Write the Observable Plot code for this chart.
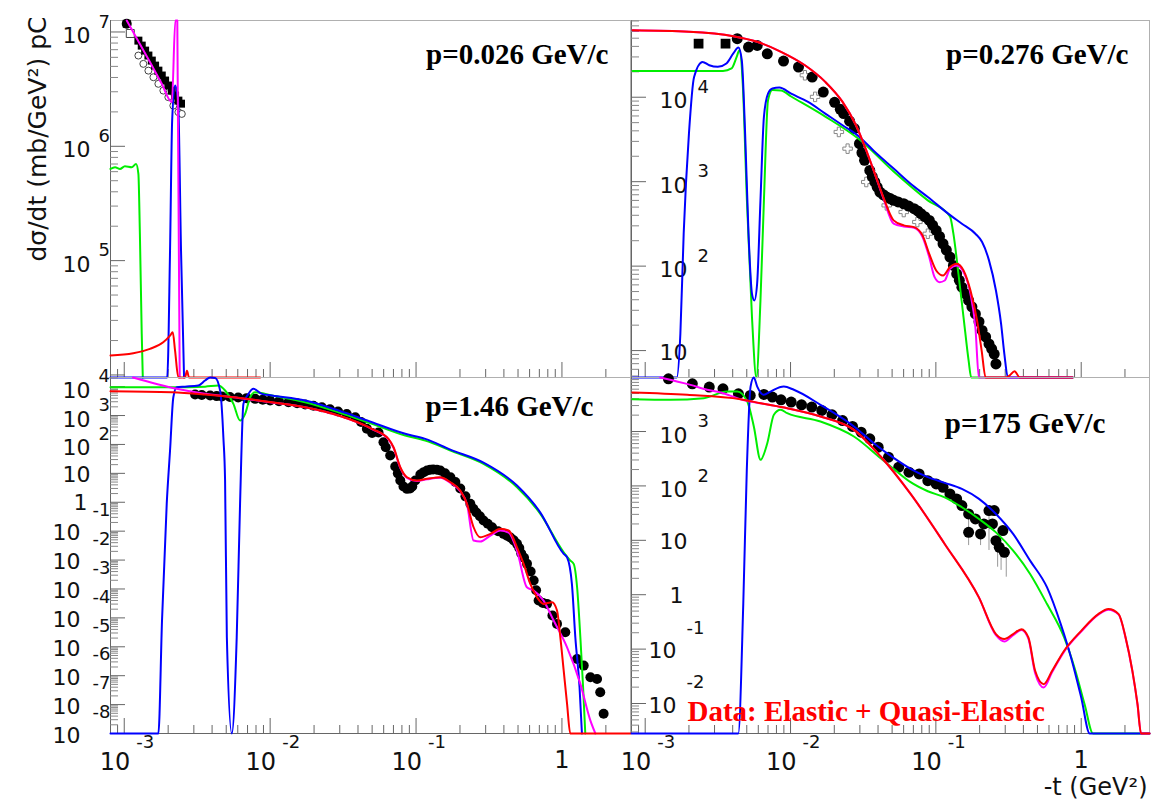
<!DOCTYPE html>
<html><head><meta charset="utf-8">
<script src="https://cdn.jsdelivr.net/npm/d3@7"></script>
<script src="https://cdn.jsdelivr.net/npm/@observablehq/plot@0.6"></script>
<style>
body{margin:0;background:#fff;}
#fig{position:relative;width:1155px;height:802px;background:#fff;overflow:hidden;}
#fig > div{position:absolute;}
#fig svg{overflow:visible;}
</style></head><body><div id="fig"></div>
<script>
// ---------- axes ----------
const xDomain = [8.05e-4, 2.95];
const yDomainTL = [9.5e3, 1.26e7];
const yDomainTR = [4.8, 8.1e4];
const yDomainBL = [1e-8, 2.07e4];
const yDomainBR = [2.81e-3, 9.84e3];

const xTickLabels = [{v:1e-3, base:"10", exp:"-3"}, {v:1e-2, base:"10", exp:"-2"}, {v:1e-1, base:"10", exp:"-1"}, {v:1, base:"1", exp:""}];
const yTickLabelsTL = [{v:1e5, base:"10", exp:"5"}, {v:1e6, base:"10", exp:"6"}, {v:1e7, base:"10", exp:"7"}];
const yTickLabelsTR = [{v:10, base:"10", exp:""}, {v:1e2, base:"10", exp:"2"}, {v:1e3, base:"10", exp:"3"}, {v:1e4, base:"10", exp:"4"}];
const yTickLabelsBL = [{v:1e4, base:"10", exp:"4"}, {v:1e3, base:"10", exp:"3"}, {v:1e2, base:"10", exp:"2"}, {v:10, base:"10", exp:""}, {v:1, base:"1", exp:""},
  {v:1e-1, base:"10", exp:"-1"}, {v:1e-2, base:"10", exp:"-2"}, {v:1e-3, base:"10", exp:"-3"}, {v:1e-4, base:"10", exp:"-4"},
  {v:1e-5, base:"10", exp:"-5"}, {v:1e-6, base:"10", exp:"-6"}, {v:1e-7, base:"10", exp:"-7"}, {v:1e-8, base:"10", exp:"-8"}];
const yTickLabelsBR = [{v:1e3, base:"10", exp:"3"}, {v:1e2, base:"10", exp:"2"}, {v:10, base:"10", exp:""}, {v:1, base:"1", exp:""}, {v:1e-1, base:"10", exp:"-1"}, {v:1e-2, base:"10", exp:"-2"}];

const panelTitles = ["p=0.026 GeV/c", "p=0.276 GeV/c", "p=1.46 GeV/c", "p=175 GeV/c"];
const yAxisTitle = "dσ/dt (mb/GeV²) pC";
const xAxisTitle = "-t (GeV²)";
const dataNote = "Data: Elastic + Quasi-Elastic";
const colors = {red:"#ff0000", magenta:"#ff00ff", green:"#00ee00", blue:"#0000ff"};

// ---------- p = 0.026 GeV/c ----------
const tlFilled = [[1.04e-3,1.18e7],[1.25e-3,8.4e6],[1.318e-3,7.6e6],[1.39e-3,6.87e6],[1.464e-3,6.22e6],[1.545e-3,5.62e6],[1.627e-3,5.08e6],[1.714e-3,4.59e6],[1.808e-3,4.16e6],[1.905e-3,3.76e6],[2.006e-3,3.4e6],[2.117e-3,3.07e6],[2.23e-3,2.78e6],[2.35e-3,2.51e6],[2.45e-3,2.36e6]];
const tlOpen = [[1.25e-3,6.22e6],[1.352e-3,5.26e6],[1.464e-3,4.59e6],[1.585e-3,4.02e6],[1.714e-3,3.52e6],[1.854e-3,3.07e6],[2.006e-3,2.69e6],[2.17e-3,2.27e6],[2.35e-3,1.99e6],[2.48e-3,1.92e6]];
const tlOpenSquare = [[1.1e-3,9.7e6]];
const tlMagenta = [[1.04e-3,1.3e7],[1.5e-3,5.46e6],[1.8e-3,3.56e6],[2.12e-3,2.43e6],[2.24e-3,3e7],[2.31e-3,3e7],[2.4e-3,5e3]];
const tlBlue = [[8.05e-4,5e3],[1.97e-3,5e3],[2.06e-3,1.22e5],[2.13e-3,1.68e6],[2.23e-3,3.4e6],[2.34e-3,2.5e6],[2.45e-3,1.22e5],[2.57e-3,5e3]];
const tlGreen = [[8.05e-4,6.34e5],[8.65e-4,6.55e5],[9.35e-4,6.34e5],[1.01e-3,6.68e5],[1.125e-3,6.55e5],[1.205e-3,7.0e5],[1.25e-3,5.74e5],[1.28e-3,1.71e5],[1.318e-3,2.28e4],[1.34e-3,5e3]];
const tlRed = [[8.05e-4,1.48e4],[1.153e-3,1.55e4],[1.5e-3,1.69e4],[1.85e-3,1.93e4],[2.06e-3,2.21e4],[2.15e-3,2.36e4],[2.23e-3,1.63e4],[2.35e-3,5e3],[2.61e-3,5e3],[2.69e-3,1.09e4],[2.78e-3,5e3],[8.54e-3,5e3]];

// ---------- p = 0.276 GeV/c ----------
const trSquares = [[2.33e-3,4.31e4],[3.57e-3,4.31e4]];
const trFilled = [[4.3e-3,4.93e4],[5.14e-3,3.93e4],[5.9e-3,4.11e4],[6.92e-3,3.27e4],[8.95e-3,2.68e4],[1.135e-2,2.28e4],[1.41e-2,1.73e4],[1.68e-2,1.15e4],[2.01e-2,8.7e3],[2.2e-2,7.2e3],[2.32e-2,6.4e3],[2.55e-2,5.2e3],[2.75e-2,4.25e3],[2.98e-2,2.82e3],[3.1e-2,2.2e3],[3.23e-2,1.79e3],[3.51e-2,1.36e3],[3.65e-2,1.15e3],[3.8e-2,991],[3.95e-2,860],[4.12e-2,754],[4.35e-2,700],[4.59e-2,658],[4.85e-2,630],[5.12e-2,601],[5.5e-2,575],[6.01e-2,548],[6.5e-2,515],[7.08e-2,479],[7.5e-2,450],[7.89e-2,418],[8.4e-2,385],[9.02e-2,348],[9.5e-2,305],[0.1005,265],[0.106,225],[0.112,184],[0.118,155],[0.125,128],[0.132,102],[0.139,81],[0.145,68],[0.151,56.4],[0.16,47],[0.168,39.2],[0.177,33],[0.187,27.2],[0.198,22],[0.208,17.3],[0.22,14.5],[0.232,12],[0.242,10.5],[0.252,9.1],[0.259,6.95]];
const trOpen = [[1.256e-2,1.82e4],[1.476e-2,1.01e4],[2.15e-2,3.88e3],[2.47e-2,2.46e3],[3.32e-2,991],[4.59e-2,524],[6.01e-2,437],[7.46e-2,333],[8.8e-2,242]];
const trRed = [[8.2e-4,6.2e4],[2.0e-3,5.96e4],[4.04e-3,5.28e4],[5.89e-3,4.53e4],[8.6e-3,3.45e4],[1.256e-2,2.39e4],[1.734e-2,1.52e4],[2.28e-2,8.8e3],[2.82e-2,4.66e3],[3.32e-2,2.35e3],[3.8e-2,1.245e3],[4.35e-2,658],[5.12e-2,348],[6.01e-2,304],[7.08e-2,290],[8.1e-2,231],[9.0e-2,140],[0.1005,88.9],[0.112,77.5],[0.125,97.3],[0.139,107],[0.155,89],[0.173,51.4],[0.192,22.7],[0.2065,10],[0.22,3],[0.305,3],[0.321,5.06],[0.348,5.69],[0.378,3],[0.873,3]];
const trMagenta = [[8.2e-4,6.2e4],[2.0e-3,5.96e4],[4.04e-3,5.28e4],[5.89e-3,4.53e4],[8.6e-3,3.45e4],[1.256e-2,2.39e4],[1.734e-2,1.52e4],[2.28e-2,8.8e3],[2.82e-2,4.66e3],[3.32e-2,2.35e3],[3.8e-2,1.245e3],[4.35e-2,640],[5.12e-2,318],[6.01e-2,295],[7.08e-2,285],[8.1e-2,221],[9.0e-2,128],[9.8e-2,74.1],[0.1062,64.6],[0.115,67.6],[0.125,92.9],[0.139,102],[0.155,84.9],[0.173,47],[0.187,18.9],[0.1977,3],[0.873,3]];
const trGreen = [[8.2e-4,2.05e4],[3.43e-3,2.05e4],[3.93e-3,2.19e4],[4.26e-3,3.0e4],[4.45e-3,3.6e4],[4.69e-3,1.45e4],[5.01e-3,601],[5.43e-3,24.8],[5.82e-3,3],[6.21e-3,39.2],[6.56e-3,601],[7.0e-3,9.2e3],[7.5e-3,1.22e4],[8.6e-3,1.2e4],[1.01e-2,1.02e4],[1.734e-2,5.9e3],[2.98e-2,3.15e3],[5.12e-2,1.32e3],[8.8e-2,601],[0.125,388],[0.132,242],[0.143,81],[0.155,24.8],[0.168,7.6],[0.175,3],[0.873,3]];
const trBlue = [[8.2e-4,3],[1.65e-3,3],[1.746e-3,15.8],[1.84e-3,242],[2.0e-3,3.71e3],[2.17e-3,1.74e4],[2.48e-3,2.62e4],[2.76e-3,2.39e4],[3.16e-3,2.29e4],[3.62e-3,2.51e4],[4.04e-3,3.3e4],[4.38e-3,3.88e4],[4.62e-3,2.75e4],[4.87e-3,3.71e3],[5.14e-3,242],[5.43e-3,47],[5.64e-3,39.2],[5.89e-3,61.8],[6.21e-3,601],[6.56e-3,5.85e3],[7.0e-3,1.1e4],[7.5e-3,1.27e4],[8.37e-3,1.3e4],[1.01e-2,1.1e4],[1.32e-2,8.8e3],[1.734e-2,6.4e3],[2.28e-2,4.66e3],[2.98e-2,3.39e3],[3.91e-2,2.15e3],[5.12e-2,1.43e3],[6.7e-2,946],[8.8e-2,658],[0.1216,418],[0.151,318],[0.187,242],[0.208,193],[0.232,117],[0.259,51.4],[0.281,20.7],[0.296,9.1],[0.313,3],[0.873,3]];

// ---------- p = 1.46 GeV/c ----------
const blData = [[3.06e-3,5.33e3],[3.4e-3,5.1e3],[3.88e-3,4.92e3],[4.3e-3,4.7e3],[4.67e-3,4.54e3],[5.3e-3,4.4e3],[6.04e-3,4.2e3],[6.9e-3,4.0e3],[7.89e-3,3.78e3],[8.9e-3,3.55e3],[1e-2,3.3e3],[1.15e-2,3.1e3],[1.335e-2,2.88e3],[1.53e-2,2.65e3],[1.738e-2,2.4e3],[1.98e-2,2.17e3],[2.26e-2,1.94e3],[2.57e-2,1.65e3],[2.92e-2,1.37e3],[3.35e-2,1.12e3],[3.83e-2,873],[4.2e-2,600],[4.6e-2,347],[5.0e-2,250],[5.53e-2,258],[5.98e-2,119],[6.2e-2,80],[6.65e-2,41.3],[7.2e-2,17.2],[7.5e-2,10],[7.8e-2,5.64],[8.2e-2,3.5],[8.67e-2,2.91],[9.1e-2,3.0],[9.42e-2,3.49],[9.88e-2,5.64],[0.107,9.1],[0.113,11],[0.119,12.5],[0.125,13.3],[0.131,13.5],[0.139,13.3],[0.1466,12.5],[0.158,10],[0.172,7.33],[0.186,5],[0.201,2.98],[0.218,1.6],[0.2355,0.881],[0.247,0.6],[0.259,0.44],[0.274,0.33],[0.29,0.233],[0.31,0.18],[0.332,0.136],[0.365,0.1],[0.398,0.0807],[0.42,0.07],[0.443,0.06],[0.467,0.048],[0.492,0.0364],[0.51,0.026],[0.526,0.0168],[0.55,0.012],[0.576,7.4e-3],[0.61,4e-3],[0.64,1.95e-3],[0.665,9e-4],[0.692,3.97e-4],[0.74,3.3e-4],[0.79,3.05e-4],[0.86,1.2e-4],[0.925,6.2e-5],[1.054,3.17e-5],[1.27,3.8e-6],[1.41,2.23e-6],[1.567,8.8e-7],[1.74,7.7e-7],[1.83,2.67e-7],[1.93,4.8e-8]];
const blRed = [[8.05e-4,6.93e3],[2.12e-3,6.4e3],[3.58e-3,5.33e3],[6.07e-3,4.09e3],[1.028e-2,2.88e3],[1.738e-2,1.94e3],[2.94e-2,1.0e3],[4.99e-2,347],[6.47e-2,156],[7.01e-2,80],[7.8e-2,16.3],[8.67e-2,7.33],[0.1014,5.64],[0.1189,6.45],[0.1466,7.33],[0.172,4.92],[0.201,2.54],[0.2234,0.881],[0.248,0.1365],[0.275,0.0615],[0.323,0.0807],[0.378,0.12],[0.431,0.105],[0.492,0.0277],[0.546,7.4e-3],[0.607,1.5e-3],[0.675,5.16e-4],[0.748,3.05e-4],[0.855,3.47e-4],[0.925,1.79e-4],[0.975,2.13e-5],[1.028,1.5e-6],[1.084,1.06e-7],[1.14,1e-9],[2.95,1e-9]];
const blMagenta = [[1.148e-3,2.1e4],[2.29e-3,8.4e3],[3.31e-3,6.0e3],[6.07e-3,4.05e3],[1.028e-2,2.85e3],[1.738e-2,1.92e3],[2.94e-2,990],[4.99e-2,340],[6.47e-2,150],[7.01e-2,76],[7.8e-2,15.5],[8.67e-2,7.0],[0.1014,5.4],[0.1189,6.2],[0.1466,7.0],[0.172,4.7],[0.201,2.4],[0.2234,0.85],[0.248,0.0473],[0.275,0.0437],[0.323,0.0705],[0.378,0.105],[0.431,0.0895],[0.492,0.0213],[0.575,1.15e-3],[0.64,8.8e-4],[0.748,3.97e-4],[0.877,8.07e-5],[1.084,9.6e-6],[1.337,5.2e-7],[1.567,2.8e-8],[1.695,1e-9]];
const blGreen = [[8.05e-4,9.5e3],[2.12e-3,9.5e3],[3.58e-3,1.0e4],[4.42e-3,1.09e4],[4.91e-3,7.33e3],[5.6e-3,2.54e3],[6.22e-3,671],[6.74e-3,1.15e3],[7.3e-3,4.3e3],[7.89e-3,6.4e3],[1.028e-2,4.92e3],[1.738e-2,2.88e3],[2.94e-2,1.3e3],[4.99e-2,516],[8.43e-2,203],[0.1156,136],[0.172,61.5],[0.29,21.3],[0.492,3.3],[0.711,0.397],[1.028,0.0186],[1.142,9.6e-3],[1.203,7.4e-3],[1.27,1.15e-3],[1.337,2.13e-5],[1.396,3.97e-7],[1.445,1e-9]];
const blBlue = [[8.05e-4,1e-9],[1.714e-3,1e-9],[1.815e-3,8.07e-5],[1.955e-3,0.881],[2.06e-3,61.5],[2.17e-3,4.3e3],[2.29e-3,9.5e3],[2.61e-3,1.0e4],[3.22e-3,1.09e4],[3.58e-3,1.63e4],[3.88e-3,2.2e4],[4.2e-3,2.0e4],[4.54e-3,7.3e3],[4.78e-3,177],[4.91e-3,5.64],[5.05e-3,2.13e-5],[5.46e-3,1e-9],[5.9e-3,2.13e-5],[6.22e-3,0.881],[6.56e-3,2.54e3],[7.1e-3,5.64e3],[7.68e-3,8.4e3],[8.77e-3,5.64e3],[1.028e-2,4.92e3],[1.738e-2,3.3e3],[2.94e-2,1.49e3],[4.99e-2,586],[8.43e-2,233],[0.1156,156],[0.172,66],[0.29,23.5],[0.492,3.78],[0.711,0.44],[1.028,0.0164],[1.084,0.0125],[1.17,1.5e-3],[1.235,2.13e-5],[1.32,3.97e-7],[1.371,1e-9]];

// ---------- p = 175 GeV/c ----------
const brData = [[1.445e-3,9.3e3],[2.11e-3,7.53e3],[2.76e-3,6.55e3],[3.43e-3,6.1e3],[4.38e-3,4.93e3],[5.28e-3,4.6e3],[6.56e-3,4.8e3],[7.5e-3,4.29e3],[8.6e-3,3.83e3],[1.01e-2,3.47e3],[1.19e-2,3.1e3],[1.4e-2,2.81e3],[1.64e-2,2.44e3],[1.93e-2,2.03e3],[2.28e-2,1.59e3],[2.67e-2,1.24e3],[3.06e-2,973],[3.51e-2,733],[4.01e-2,515],[4.72e-2,337],[5.55e-2,221],[6.53e-2,179],[7.67e-2,166],[8.8e-2,125],[0.1005,109],[0.112,94.5],[0.125,71.3],[0.139,57.7],[0.151,43.5],[0.168,30.5],[0.168,14],[0.187,24.7],[0.203,13.1],[0.214,20],[0.232,35.2],[0.245,20],[0.252,35.2],[0.259,9.86],[0.273,7.43],[0.289,15.1],[0.296,6.01]];
const brErrors = [{t:0.168, lo:8, hi:30}, {t:0.203, lo:8, hi:13}, {t:0.232, lo:6.5, hi:35}, {t:0.266, lo:3.2, hi:10}, {t:0.281, lo:2.8, hi:7.4}, {t:0.305, lo:2.1, hi:6}];
const brRed = [[8.15e-4,5.21e3],[1.945e-3,4.73e3],[4.53e-3,3.93e3],[6.22e-3,3.31e3],[9.49e-3,2.68e3],[1.607e-2,1.89e3],[2.73e-2,1.07e3],[4.17e-2,347],[6.7e-2,71.3],[0.115,8.57],[0.1977,0.893],[0.259,0.189],[0.296,0.153],[0.34,0.189],[0.388,0.233],[0.433,0.164],[0.482,0.0399],[0.552,0.0227],[0.631,0.0399],[0.763,0.0931],[1.0,0.217],[1.31,0.44],[1.54,0.544],[1.81,0.44],[2.02,0.164],[2.25,0.0399],[2.44,9.7e-3],[2.58,1e-3],[2.95,1e-3]];
const brMagenta = [[1.27e-3,1e4],[2.05e-3,7.2e3],[2.67e-3,5.85e3],[3.3e-3,5.21e3],[4.53e-3,3.93e3],[6.22e-3,3.31e3],[9.49e-3,2.68e3],[1.607e-2,1.89e3],[2.73e-2,1.07e3],[4.17e-2,347],[6.7e-2,71.3],[0.115,8.57],[0.1977,0.893],[0.259,0.18],[0.296,0.138],[0.34,0.18],[0.388,0.225],[0.433,0.155],[0.482,0.036],[0.552,0.0197],[0.631,0.038],[0.763,0.09],[1.0,0.21],[1.31,0.43],[1.54,0.53],[1.81,0.43],[2.02,0.16],[2.25,0.039],[2.44,9.5e-3],[2.58,1e-3],[2.95,1e-3]];
const brGreen = [[8.15e-4,3.93e3],[1.493e-3,3.83e3],[2.53e-3,4.09e3],[3.66e-3,5.43e3],[4.3e-3,5.43e3],[5.04e-3,3.56e3],[5.59e-3,1.24e3],[6.22e-3,302],[6.92e-3,610],[7.68e-3,2.03e3],[8.54e-3,2.51e3],[9.49e-3,2.17e3],[1.607e-2,1.53e3],[2.73e-2,809],[4.17e-2,323],[5.12e-2,206],[6.7e-2,117],[8.8e-2,79.8],[0.115,61.8],[0.151,40.5],[0.198,24.7],[0.259,14],[0.34,6.46],[0.445,2.4],[0.582,0.673],[0.763,0.164],[0.898,0.046],[1.055,9.7e-3],[1.207,1e-3],[2.95,1e-3]];
const brBlue = [[8.05e-4,1e-3],[3.4e-3,1e-3],[4.37e-3,2e-3],[4.73e-3,0.68],[5.0e-3,192],[5.31e-3,6.7e3],[5.59e-3,1.03e4],[5.9e-3,6.7e3],[6.55e-3,4.73e3],[7.28e-3,5.43e3],[8.99e-3,6.7e3],[1.054e-2,5.85e3],[1.607e-2,3.1e3],[2.73e-2,1.24e3],[3.74e-2,610],[5.12e-2,327],[6.7e-2,206],[8.8e-2,145],[0.115,114],[0.151,88],[0.198,57.7],[0.259,30.5],[0.34,13.1],[0.445,4.23],[0.582,1.36],[0.723,0.288],[0.851,0.0703],[1.0,0.0129],[1.145,1e-3],[2.95,1e-3]];

// ---------- helpers ----------
const rows = pairs => pairs.map(([t, s]) => ({t, s}));
const isMajor = v => Math.abs(Math.log10(v) - Math.round(Math.log10(v))) < 1e-9;
const NUM_FONT = "DejaVu Sans, Liberation Sans, sans-serif";
const TITLE_FONT = "Liberation Serif, Times New Roman, serif";

function curveMarks(c) {
  return [
    Plot.line(rows(c.green), {x:"t", y:"s", stroke:colors.green, strokeWidth:2, curve:"monotone-x"}),
    Plot.line(rows(c.blue), {x:"t", y:"s", stroke:colors.blue, strokeWidth:2, curve:"monotone-x"}),
    Plot.line(rows(c.magenta), {x:"t", y:"s", stroke:colors.magenta, strokeWidth:2, curve:"monotone-x"}),
    Plot.line(rows(c.red), {x:"t", y:"s", stroke:colors.red, strokeWidth:2, curve:"monotone-x"})
  ];
}

function yLabelMarks(labels, inside) {
  const o = inside ? {pos:56, neg:45, supPos:66, supNeg:55, one:52} : {pos:-20, neg:-30, supPos:-12, supNeg:-18, one:-23};
  const pos = labels.filter(d => d.exp && d.exp[0] !== "-");
  const neg = labels.filter(d => d.exp && d.exp[0] === "-");
  const ten = labels.filter(d => !d.exp && d.base === "10");
  const one = labels.filter(d => !d.exp && d.base === "1");
  const common = {frameAnchor:"left", fontFamily:NUM_FONT, fill:"#111"};
  return [
    Plot.text(pos, {...common, y:"v", text:"base", textAnchor:"end", dx:o.pos, dy:4, fontSize:22}),
    Plot.text(pos, {...common, y:"v", text:"exp", textAnchor:"start", dx:o.supPos, dy:-10, fontSize:18}),
    Plot.text(neg, {...common, y:"v", text:"base", textAnchor:"end", dx:o.neg, dy:2, fontSize:22}),
    Plot.text(neg, {...common, y:"v", text:"exp", textAnchor:"start", dx:o.supNeg, dy:-21, fontSize:18}),
    Plot.text(ten, {...common, y:"v", text:"base", textAnchor:"end", dx:o.pos, dy:2, fontSize:22}),
    Plot.text(one, {...common, y:"v", text:"base", textAnchor:"end", dx:o.one, dy:1, fontSize:22})
  ];
}

function xLabelMarks(labels) {
  const withExp = labels.filter(d => d.exp);
  const plain = labels.filter(d => !d.exp);
  const common = {frameAnchor:"bottom", fontFamily:NUM_FONT, fill:"#111"};
  return [
    Plot.text(withExp, {...common, x:"v", text:"base", textAnchor:"end", dx:6, dy:36, fontSize:24}),
    Plot.text(withExp, {...common, x:"v", text:"exp", textAnchor:"start", dx:12, dy:14, fontSize:18}),
    Plot.text(plain, {...common, x:"v", text:"base", textAnchor:"middle", dx:0, dy:34, fontSize:24})
  ];
}

function panel(cfg) {
  const {left, top, width, height, mt, mb, ml, mr, yDomain, marks} = cfg;
  const innerW = width - ml - mr, innerH = height - mt - mb;
  const yAll = d3.scaleLog().domain(yDomain).ticks(20);
  const xAll = d3.scaleLog().domain(xDomain).ticks(20);
  const plot = Plot.plot({
    width, height, marginTop:mt, marginBottom:mb, marginLeft:ml, marginRight:mr,
    style:{background:"transparent", overflow:"visible", fontFamily:NUM_FONT},
    x:{type:"log", domain:xDomain, axis:null},
    y:{type:"log", domain:yDomain, axis:null, clamp:true},
    marks:[
      Plot.frame({stroke:"#b0b0b0"}),
      Plot.ruleY([yDomain[0]], {stroke:"#666"}),
      Plot.ruleX([xDomain[0]], {stroke:"#666"}),
      Plot.tickX(xAll.filter(v => !isMajor(v)), {x:d => d, insetTop:innerH - 8, stroke:"#666"}),
      Plot.tickX(xAll.filter(isMajor), {x:d => d, insetTop:innerH - 15, stroke:"#666"}),
      Plot.tickY(yAll.filter(v => !isMajor(v)), {y:d => d, insetRight:innerW - 8, stroke:"#888"}),
      Plot.tickY(yAll.filter(isMajor), {y:d => d, insetRight:innerW - 15, stroke:"#666"}),
      ...marks
    ]
  });
  const div = document.createElement("div");
  div.style.left = left + "px";
  div.style.top = top + "px";
  div.appendChild(plot);
  document.getElementById("fig").appendChild(div);
}

const titleStyle = {fontFamily:TITLE_FONT, fontWeight:"bold", fontSize:29, fill:"#000", textAnchor:"end", lineAnchor:"bottom", frameAnchor:"top-right"};

// top-left
panel({left:0, top:0, width:630, height:377, mt:20, mb:0, ml:110, mr:0, yDomain:yDomainTL, marks:[
  ...yLabelMarks(yTickLabelsTL, false),
  Plot.dot(rows(tlOpen), {x:"t", y:"s", r:3.5, stroke:"#444", fill:"white", strokeWidth:1}),
  Plot.dot(rows(tlOpenSquare), {x:"t", y:"s", r:4.5, symbol:"square", stroke:"#444", fill:"white", strokeWidth:1}),
  Plot.dot(rows(tlFilled), {x:"t", y:"s", r:4.5, symbol:"square", fill:"black"}),
  Plot.dot(rows(tlFilled.slice(0,1)), {x:"t", y:"s", r:5, fill:"black"}),
  ...curveMarks({red:tlRed, magenta:tlMagenta, green:tlGreen, blue:tlBlue}),
  Plot.text([panelTitles[0]], {...titleStyle, dx:-22, dy:43}),
  Plot.text([yAxisTitle], {frameAnchor:"top-left", rotate:-90, textAnchor:"end", lineAnchor:"middle", dx:-73, dy:-4, fontSize:25, fontFamily:NUM_FONT, fill:"#111"})
]});

// top-right
panel({left:631, top:0, width:524, height:377, mt:20, mb:0, ml:0, mr:6, yDomain:yDomainTR, marks:[
  ...yLabelMarks(yTickLabelsTR, true),
  Plot.dot(rows(trOpen), {x:"t", y:"s", r:4, symbol:"cross", stroke:"#888", fill:"white", strokeWidth:1}),
  Plot.dot(rows(trSquares), {x:"t", y:"s", r:5.5, symbol:"square", fill:"black"}),
  Plot.dot(rows(trFilled), {x:"t", y:"s", r:5.5, fill:"black"}),
  ...curveMarks({red:trRed, magenta:trMagenta, green:trGreen, blue:trBlue}),
  Plot.text([panelTitles[1]], {...titleStyle, dx:-21, dy:43})
]});

// bottom-left
panel({left:0, top:377, width:630, height:425, mt:0, mb:69, ml:110, mr:0, yDomain:yDomainBL, marks:[
  ...yLabelMarks(yTickLabelsBL, false),
  ...xLabelMarks(xTickLabels),
  Plot.dot(rows(blData), {x:"t", y:"s", r:5, fill:"black"}),
  ...curveMarks({red:blRed, magenta:blMagenta, green:blGreen, blue:blBlue}),
  Plot.text([panelTitles[2]], {...titleStyle, dx:-37, dy:38})
]});

// bottom-right
panel({left:631, top:377, width:524, height:425, mt:0, mb:69, ml:0, mr:6, yDomain:yDomainBR, marks:[
  ...yLabelMarks(yTickLabelsBR, true),
  ...xLabelMarks(xTickLabels),
  Plot.ruleX(brErrors, {x:"t", y1:"lo", y2:"hi", stroke:"#999", strokeWidth:1}),
  Plot.dot(rows(brData), {x:"t", y:"s", r:5.5, fill:"black"}),
  ...curveMarks({red:brRed, magenta:brMagenta, green:brGreen, blue:brBlue}),
  Plot.text([panelTitles[3]], {...titleStyle, dx:-44, dy:55}),
  Plot.text([dataNote], {frameAnchor:"bottom-left", textAnchor:"start", lineAnchor:"bottom", dx:56, dy:-13, fontFamily:TITLE_FONT, fontWeight:"bold", fontSize:29, fill:"#ff0000"}),
  Plot.text([xAxisTitle], {frameAnchor:"bottom-right", textAnchor:"end", lineAnchor:"middle", dx:-2, dy:54, fontSize:24, fontFamily:NUM_FONT, fill:"#111"})
]});
</script></body></html>
